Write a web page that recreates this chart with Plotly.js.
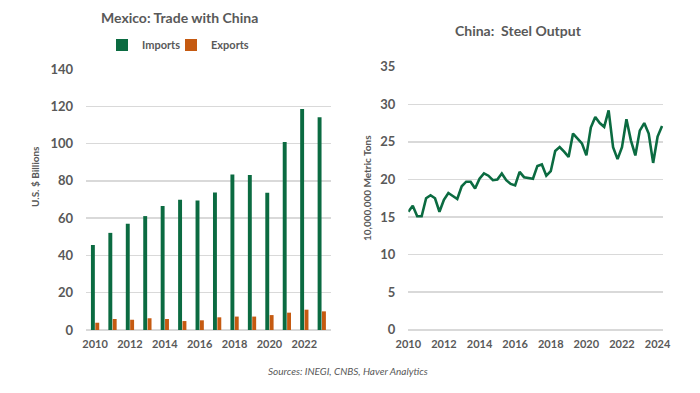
<!DOCTYPE html>
<html><head><meta charset="utf-8">
<script src="https://cdn.plot.ly/plotly-3.0.1.min.js"></script>
<style>html,body{margin:0;padding:0;background:#fff}#chart{width:700px;height:393px}</style>
</head><body><div id="chart"></div>
<script>
// Mexico: Trade with China (U.S. $ Billions)
const tradeYears = [2010,2011,2012,2013,2014,2015,2016,2017,2018,2019,2020,2021,2022,2023];
const imports = [45.6,52.1,57.0,61.1,66.5,69.8,69.5,73.8,83.4,83.1,73.6,100.8,118.6,114.1];
const exports = [3.9,5.9,5.5,6.3,5.9,4.8,5.2,6.8,7.2,7.2,8.0,9.3,10.9,10.0];

// China: Steel Output, quarterly from 2010 Q1 (10,000,000 metric tons)
const steelStartYear = 2010;
const steelOutput = [
  15.7,16.5,15.1,15.1,
  17.5,17.9,17.5,15.7,
  17.3,18.2,17.8,17.4,
  19.1,19.7,19.7,18.8,
  20.1,20.8,20.5,19.9,
  20.0,20.8,19.9,19.4,
  19.2,21.0,20.3,20.2,
  20.1,21.8,22.0,20.5,
  21.1,23.8,24.3,23.7,
  23.0,26.1,25.5,24.8,
  23.2,26.9,28.3,27.5,
  27.0,29.2,24.3,22.7,
  24.3,28.0,25.2,23.2,
  26.5,27.5,26.1,22.2,
  25.7,27.1
];
const steelX = steelOutput.map((_, i) => steelStartYear + i / 4);

const green = '#0B6B41';
const orange = '#C55A11';
const grey = '#595959';
const grid = '#D9D9D9';
const FONT = 'Lato, "Open Sans", sans-serif';

const traces = [
  {type:'bar', name:'Imports', x:tradeYears, y:imports, marker:{color:green}, xaxis:'x', yaxis:'y', legend:'legend'},
  {type:'bar', name:'Exports', x:tradeYears, y:exports, marker:{color:orange}, xaxis:'x', yaxis:'y', legend:'legend2'},
  {type:'scatter', mode:'lines', name:'Steel Output', x:steelX, y:steelOutput, line:{color:green, width:2.6},
   xaxis:'x2', yaxis:'y2', showlegend:false}
];

const tickFontY = {family:FONT, size:13, color:grey, weight:'bold'};
const tickFontX = {family:FONT, size:11, color:grey, weight:'bold'};
const legendFont = {family:FONT, size:11, color:grey, weight:'bold'};

const layout = {
  width:700, height:393,
  margin:{l:0, r:0, t:0, b:0},
  paper_bgcolor:'#fff', plot_bgcolor:'#fff',
  font:{family:FONT, color:grey},
  barmode:'group', bargap:0.5, bargroupgap:0.1,
  showlegend:true,
  legend:{orientation:'h', x:102/700, xanchor:'left', y:1-45/393, yanchor:'middle', font:legendFont, itemwidth:30,
          bgcolor:'rgba(0,0,0,0)'},
  legend2:{orientation:'h', x:171/700, xanchor:'left', y:1-45/393, yanchor:'middle', font:legendFont, itemwidth:30,
          bgcolor:'rgba(0,0,0,0)'},
  xaxis:{domain:[86/700, 331/700], range:[2009.48, 2023.53], tickvals:[2010,2012,2014,2016,2018,2020,2022],
         showgrid:false, zeroline:false, showline:false, ticks:'', tickfont:tickFontX, ticklabelstandoff:6, anchor:'y'},
  yaxis:{domain:[1-330/393, 1-69/393], range:[0,140], dtick:20, showgrid:true, gridcolor:grid, gridwidth:1.5,
         zeroline:true, zerolinecolor:grid, zerolinewidth:1.5, ticks:'', tickfont:tickFontY, ticklabelstandoff:12, anchor:'x'},
  xaxis2:{domain:[408.3/700, 663.3/700], range:[2010, 2024.32], tickvals:[2010,2012,2014,2016,2018,2020,2022,2024],
         showgrid:false, zeroline:false, showline:false, ticks:'', tickfont:tickFontX, ticklabelstandoff:6, anchor:'y2'},
  yaxis2:{domain:[1-329.8/393, 1-66.7/393], range:[0,35], dtick:5, showgrid:true, gridcolor:grid, gridwidth:1.5,
         zeroline:true, zerolinecolor:grid, zerolinewidth:1.5, ticks:'', tickfont:tickFontY, ticklabelstandoff:12, anchor:'x2'},
  annotations:[
    {text:'Mexico: Trade with China', xref:'paper', yref:'paper', x:180/700, y:1-17/393, xanchor:'center', yanchor:'middle',
     showarrow:false, font:{family:FONT, size:14, color:grey, weight:'bold'}},
    {text:'China:  Steel Output', xref:'paper', yref:'paper', x:518/700, y:1-30/393, xanchor:'center', yanchor:'middle',
     showarrow:false, font:{family:FONT, size:14, color:grey, weight:'bold'}},
    {text:'U.S. $ Billions', xref:'paper', yref:'paper', x:35/700, y:1-177/393, xanchor:'center', yanchor:'middle', textangle:-90,
     showarrow:false, font:{family:FONT, size:10, color:grey, weight:'bold'}},
    {text:'10,000,000 Metric Tons', xref:'paper', yref:'paper', x:367/700, y:1-188/393, xanchor:'center', yanchor:'middle', textangle:-90,
     showarrow:false, font:{family:FONT, size:10, color:grey, weight:'bold'}},
    {text:'<i>Sources: INEGI, CNBS, Haver Analytics</i>', xref:'paper', yref:'paper', x:348/700, y:1-371/393, xanchor:'center', yanchor:'middle',
     showarrow:false, font:{family:FONT, size:10, color:grey}}
  ]
};

Plotly.newPlot('chart', traces, layout, {staticPlot:true, displayModeBar:false});
</script>
</body></html>
